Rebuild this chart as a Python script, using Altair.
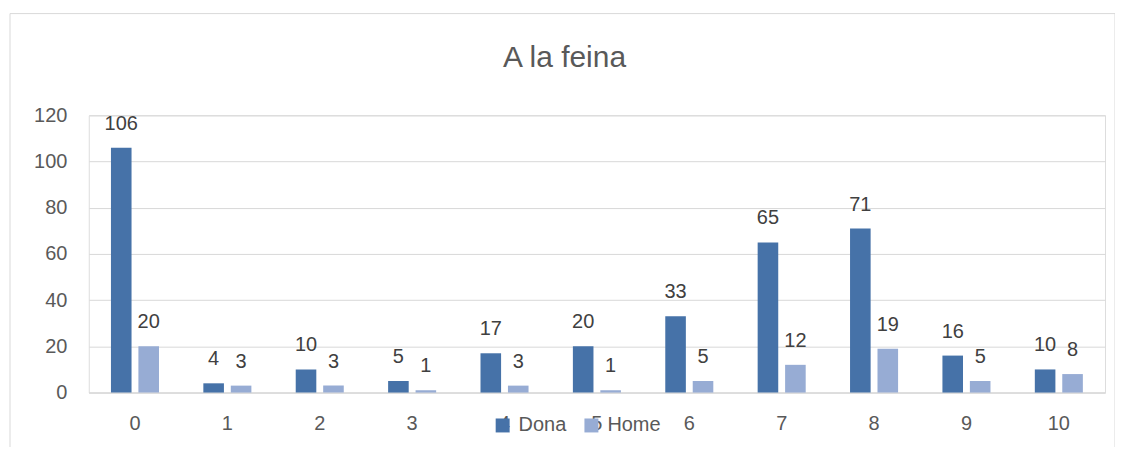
import altair as alt
import pandas as pd

categories = ["0", "1", "2", "3", "4", "5", "6", "7", "8", "9", "10"]
dona = [106, 4, 10, 5, 17, 20, 33, 65, 71, 16, 10]
home = [20, 3, 3, 1, 3, 1, 5, 12, 19, 5, 8]
series = ["Dona", "Home"]
colors = ["#4672A8", "#97ACD4"]
title_text = ["A la feina"]

rows = []
for c, d, h in zip(categories, dona, home):
    rows.append({"cat": c, "serie": "Dona", "val": d})
    rows.append({"cat": c, "serie": "Home", "val": h})
df = pd.DataFrame(rows)

W, H = 1019, 278
FONT = "Liberation Sans"

x = alt.X("cat:N", sort=categories, title=None,
          scale=alt.Scale(paddingInner=0.48, paddingOuter=0.24),
          axis=alt.Axis(labelAngle=0, labelFontSize=20, labelColor="#595959",
                        labelPadding=31, labelBaseline="middle",
                        domainColor="#d9d9d9", ticks=False, labelFont=FONT))
xo = alt.XOffset("serie:N", sort=series, scale=alt.Scale(paddingInner=0.25))
y = alt.Y("val:Q", title=None,
          scale=alt.Scale(domain=[0, 120], nice=False),
          axis=alt.Axis(values=[0, 20, 40, 60, 80, 100, 120], labelFontSize=20,
                        labelColor="#595959", labelPadding=22, domain=False,
                        ticks=False, gridColor="#d9d9d9", labelFont=FONT))
color = alt.Color("serie:N", sort=series, title=None,
                  scale=alt.Scale(domain=series, range=colors),
                  legend=alt.Legend(orient="none", legendX=405, legendY=301,
                                    direction="horizontal", symbolType="square",
                                    symbolSize=196, symbolStrokeWidth=0,
                                    labelFontSize=20, labelColor="#595959",
                                    labelFont=FONT, labelOffset=6,
                                    columnPadding=15))

base = alt.Chart(df)
bars = base.mark_bar().encode(x=x, xOffset=xo, y=y, color=color)
labels = base.mark_text(baseline="bottom", dy=-14, fontSize=20, color="#404040",
                        font=FONT).encode(
    x=x, xOffset=xo, y=y, text="val:Q")

border = alt.Chart(pd.DataFrame({"a": [0]})).mark_rect(
    fill=None, stroke="#d9d9d9", strokeWidth=1).encode(
    x=alt.value(-79), x2=alt.value(1029), y=alt.value(-102), y2=alt.value(370))

title = alt.Chart(pd.DataFrame({"t": title_text})).mark_text(
    fontSize=30, color="#595959", font=FONT, baseline="alphabetic",
    align="center").encode(x=alt.value(477), y=alt.value(-48), text="t:N")

chart = alt.layer(border, bars, labels, title).properties(
    width=W, height=H,
    autosize=alt.AutoSizeParams(type="none"),
    padding={"left": 81, "top": 107, "right": 10, "bottom": 54},
).configure_view(stroke=None).configure(background="white")

chart.save("out.html", embed_options={"renderer": "svg", "actions": False})
